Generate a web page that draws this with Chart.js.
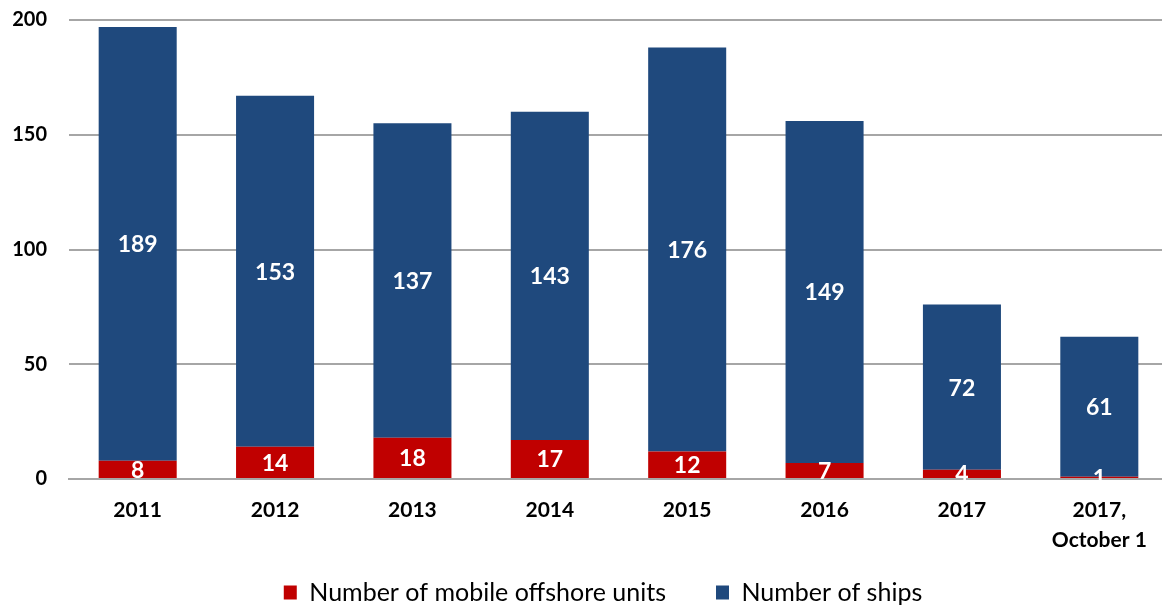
<!DOCTYPE html>
<html>
<head>
<meta charset="utf-8">
<script src="https://cdn.jsdelivr.net/npm/chart.js@4"></script>
<style>
  html, body { margin: 0; padding: 0; background: #fff; overflow: hidden; }
  #wrap { width: 1168px; height: 608px; }
</style>
</head>
<body>
<div id="wrap"><canvas id="myChart"></canvas></div>
<script>
const etiquetas = ['2011', '2012', '2013', '2014', '2015', '2016', '2017', ['2017,', 'October 1']]
const unidades = [8, 14, 18, 17, 12, 7, 4, 1]
const barcos = [189, 153, 137, 143, 176, 149, 72, 61]
const ticksY = [0, 50, 100, 150, 200]

const rojo = '#c00000'
const azul = '#1f497d'
const gris = '#a6a6a6'
const fuente = 'Lato, "Open Sans", sans-serif'

// escribe los valores dentro de cada barra
const valoresDentro = {
  id: 'valoresDentro',
  afterDatasetsDraw(chart) {
    const ctx = chart.ctx
    ctx.save()
    ctx.fillStyle = '#fff'
    ctx.font = 'bold 23px ' + fuente
    ctx.textAlign = 'center'
    ctx.textBaseline = 'middle'
    chart.data.datasets.forEach((ds, i) => {
      const meta = chart.getDatasetMeta(i)
      meta.data.forEach((bar, j) => {
        const y = (bar.y + bar.base) / 2
        ctx.fillText(String(ds.data[j]), bar.x, y + 1)
      })
    })
    ctx.restore()
  }
}

// la leyenda ocupa poco al medir y luego se coloca donde va
const leyendaAjuste = {
  id: 'leyendaAjuste',
  beforeInit(chart) {
    const fitOriginal = chart.legend.fit
    chart.legend.fit = function () {
      fitOriginal.bind(chart.legend)()
      this.height = 30
    }
  },
  afterLayout(chart) {
    const lg = chart.legend
    lg.left += 19
    lg.right += 19
    lg.top = 530
    lg.bottom = 608
  }
}

new Chart(document.getElementById('myChart'), {
  type: 'bar',
  data: {
    labels: etiquetas,
    datasets: [
      {
        label: 'Number of mobile offshore units',
        data: unidades,
        backgroundColor: rojo,
        borderWidth: 0
      },
      {
        label: 'Number of ships',
        data: barcos,
        backgroundColor: azul,
        borderWidth: 0
      }
    ]
  },
  options: {
    responsive: true,
    maintainAspectRatio: false,
    animation: false,
    layout: { padding: { top: 20, right: 0, left: 0, bottom: 0 } },
    datasets: { bar: { categoryPercentage: 1, barPercentage: 0.568 } },
    scales: {
      x: {
        stacked: true,
        afterFit: (axis) => { axis.height = 99 },
        grid: { display: false, drawTicks: false },
        border: { display: true, color: gris, width: 2 },
        ticks: {
          color: '#000',
          font: { family: fuente, size: 21, weight: 'bold', lineHeight: 1.45 },
          padding: 16,
          maxRotation: 0,
          autoSkip: false
        }
      },
      y: {
        stacked: true,
        min: 0,
        max: 200,
        afterBuildTicks: (axis) => { axis.ticks = ticksY.map(v => ({ value: v })) },
        afterFit: (axis) => {
          axis.width = 69
          axis.paddingTop = 0
          axis.paddingBottom = 0
        },
        grid: { color: gris, lineWidth: 2, drawTicks: false },
        border: { display: false },
        ticks: {
          color: '#000',
          font: { family: fuente, size: 20, weight: 'bold' },
          padding: 22
        }
      }
    },
    plugins: {
      legend: {
        position: 'bottom',
        labels: {
          color: '#000',
          font: { family: fuente, size: 25 },
          boxWidth: 13,
          boxHeight: 14,
          padding: 50
        }
      },
      tooltip: { enabled: false }
    }
  },
  plugins: [valoresDentro, leyendaAjuste]
})
</script>
</body>
</html>
